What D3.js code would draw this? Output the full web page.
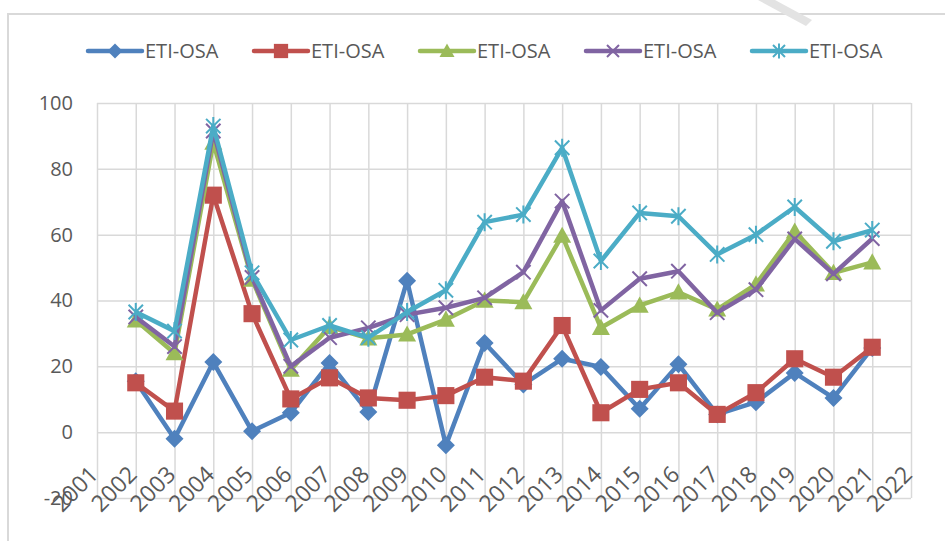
<!DOCTYPE html>
<html lang="en">
<head>
<meta charset="UTF-8" />
<title>ETI-OSA</title>
<script src="https://d3js.org/d3.v7.min.js"></script>
<style>
  body { margin: 0; background: #fff; }
  text { font-family: "Open Sans", "Liberation Sans", sans-serif; fill: #595959; }
  .grid line { stroke: #d9d9d9; stroke-width: 1.5; }
  .grid path { display: none; }
  .line { fill: none; stroke-width: 4.5; stroke-linejoin: round; }
</style>
</head>
<body>
<script>
// years on the category axis (points), and the tick labels
var years = [2002, 2003, 2004, 2005, 2006, 2007, 2008, 2009, 2010, 2011,
             2012, 2013, 2014, 2015, 2016, 2017, 2018, 2019, 2020, 2021];
var xTicks = [2001, 2002, 2003, 2004, 2005, 2006, 2007, 2008, 2009, 2010, 2011,
              2012, 2013, 2014, 2015, 2016, 2017, 2018, 2019, 2020, 2021, 2022];
var yTicks = [-20, 0, 20, 40, 60, 80, 100];

// five series, all labelled ETI-OSA in the legend
var names = ["ETI-OSA", "ETI-OSA", "ETI-OSA", "ETI-OSA", "ETI-OSA"];
var s1 = [15.5, -2, 21.3, 0.3, 5.9, 21, 6.1, 46, -4, 27.1, 14.5, 22.3, 19.8, 7.1, 20.6, 5.4, 9.1, 18, 10.4, 25.6];
var s2 = [15, 6.4, 72, 36, 10.1, 16.5, 10.4, 9.7, 11.1, 16.7, 15.5, 32.4, 5.9, 13, 15, 5.4, 12, 22.3, 16.7, 25.8];
var s3 = [34, 24, 88, 46.4, 19, 32, 28.5, 29.7, 34.2, 40, 39.5, 59.7, 31.7, 38.5, 42.5, 37.3, 44.9, 61, 48.4, 51.6];
var s4 = [35, 26, 91.5, 47, 20, 28.7, 31.7, 35.7, 37.8, 40.8, 48.6, 70.2, 37, 46.6, 48.9, 36.3, 43.3, 58.7, 48.1, 58.8];
var s5 = [36.5, 30.7, 93, 48.4, 28, 32.4, 28.7, 36.5, 43.1, 63.8, 66.1, 86.4, 52, 66.6, 65.6, 54, 60, 68.4, 58, 61.4];

var colors = ["#4f81bd", "#c0504d", "#9bbb59", "#8064a2", "#4bacc6"];
var shapes = ["diamond", "square", "triangle", "x", "star"];
var allSeries = [s1, s2, s3, s4, s5];

var width = 945, height = 541;
var pLeft = 97, pRight = 911, pTop = 103, pBottom = 498;

var svg = d3.select("body").append("svg").attr("width", width).attr("height", height);

// chart frame + faint watermark stroke
svg.append("path").attr("d", "M8,541 L8,14 L945,14")
  .attr("fill", "none").attr("stroke", "#d9d9d9").attr("stroke-width", 2);
svg.append("path").attr("d", "M758,0 L775,0 L812,20 L806,26 Z").attr("fill", "#e3e3e3");

var x = d3.scaleLinear().domain([2001, 2022]).range([pLeft, pRight]);
var y = d3.scaleLinear().domain([-20, 100]).range([pBottom, pTop]);

// grid
svg.append("g").attr("class", "grid").attr("transform", "translate(" + pLeft + ",0)")
  .call(d3.axisLeft(y).tickValues(yTicks).tickSize(-(pRight - pLeft)).tickFormat(""));
svg.append("g").attr("class", "grid").attr("transform", "translate(0," + pBottom + ")")
  .call(d3.axisBottom(x).tickValues(xTicks).tickSize(-(pBottom - pTop)).tickFormat(""));

// y labels (plain hyphen for the negative one)
var yAx = svg.append("g").attr("transform", "translate(" + pLeft + ",0)")
  .call(d3.axisLeft(y).tickValues(yTicks).tickSize(0).tickPadding(24)
    .tickFormat(function(d) { return String(d); }));
yAx.select(".domain").remove();
yAx.selectAll("text").style("font-size", "20px").attr("fill", "#595959");

// x labels, rotated
svg.append("g").selectAll("text").data(xTicks).join("text")
  .attr("transform", function(d) { return "translate(" + (x(d) + 2.5) + ",476) rotate(-45)"; })
  .attr("text-anchor", "end")
  .style("font-size", "23px")
  .text(function(d) { return d; });

function marker(sel, shape, c, s) {
  if (shape == "diamond") {
    sel.append("path").attr("d", "M0,-" + s + " L" + s + ",0 L0," + s + " L-" + s + ",0Z").attr("fill", c);
  } else if (shape == "square") {
    var h = s * 0.95;
    sel.append("rect").attr("x", -h).attr("y", -h).attr("width", 2 * h).attr("height", 2 * h).attr("fill", c);
  } else if (shape == "triangle") {
    sel.append("path").attr("d", "M0,-" + s + " L" + s + "," + (s * 0.8) + " L-" + s + "," + (s * 0.8) + "Z").attr("fill", c);
  } else {
    var k = s * 0.8;
    sel.append("path").attr("d", "M-" + k + ",-" + k + " L" + k + "," + k + " M-" + k + "," + k + " L" + k + ",-" + k +
        (shape == "star" ? " M0,-" + s + " L0," + s : ""))
      .attr("stroke", c).attr("stroke-width", 2).attr("fill", "none");
  }
}

var line = d3.line()
  .x(function(d, i) { return x(years[i]); })
  .y(function(d) { return y(d); });

allSeries.forEach(function(vals, k) {
  var g = svg.append("g");
  g.append("path").datum(vals).attr("class", "line").attr("stroke", colors[k]).attr("d", line);
  g.selectAll("g").data(vals).join("g")
    .attr("transform", function(d, i) { return "translate(" + x(years[i]) + "," + y(d) + ")"; })
    .each(function() { marker(d3.select(this), shapes[k], colors[k], 9); });
});

// legend
var leg = svg.append("g").selectAll("g").data(names).join("g")
  .attr("transform", function(d, i) { return "translate(" + (88 + i * 166) + ",51)"; });
leg.append("line").attr("x1", 0).attr("x2", 54).attr("y1", 0).attr("y2", 0)
  .attr("stroke", function(d, i) { return colors[i]; }).attr("stroke-width", 4.5).attr("stroke-linecap", "round");
leg.each(function(d, i) {
  var m = d3.select(this).append("g").attr("transform", "translate(27,0)");
  marker(m, shapes[i], colors[i], 7.5);
});
leg.append("text").attr("x", 57).attr("dy", "0.35em").style("font-size", "20px").text(function(d) { return d; });
</script>
</body>
</html>
